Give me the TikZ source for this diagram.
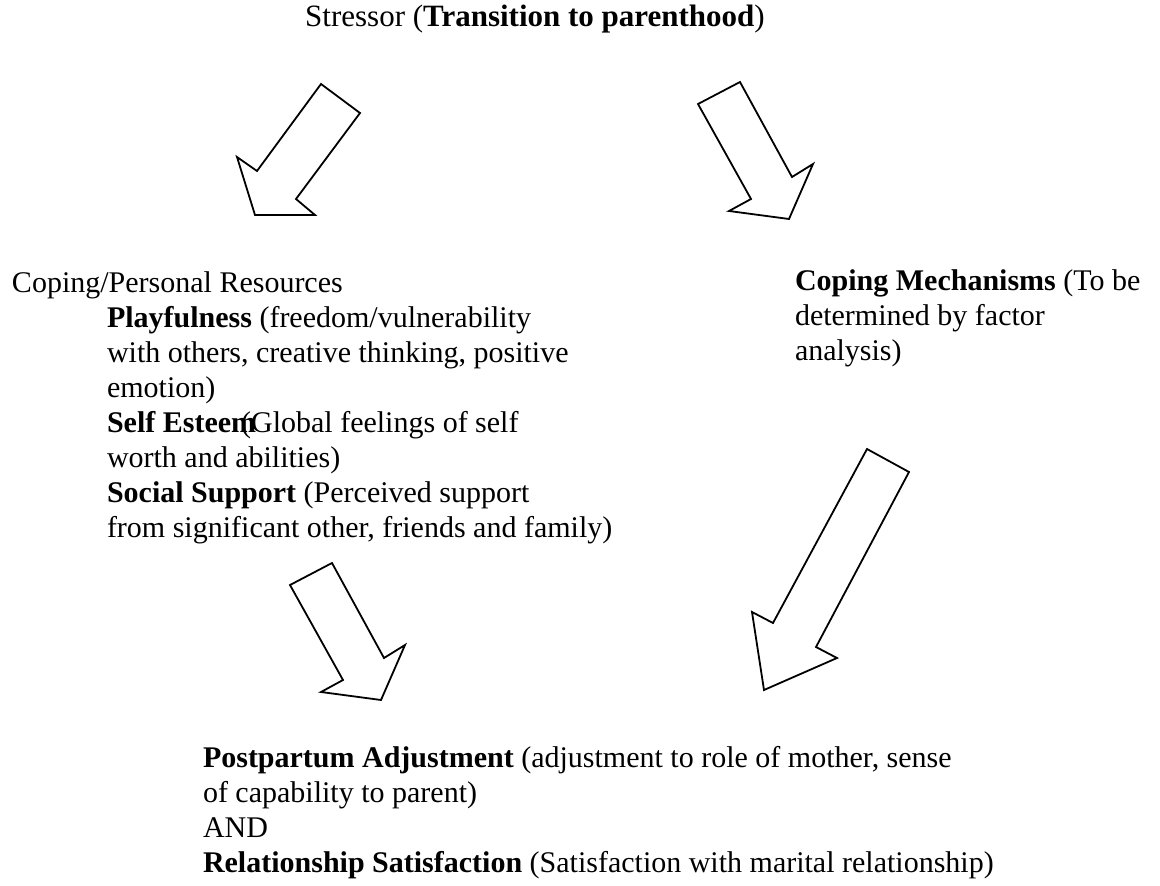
\documentclass[tikz,border=0pt]{standalone}
\usepackage{fontspec}
\setmainfont{Liberation Serif}
\begin{document}
\begin{tikzpicture}[x=1pt,y=-1pt,
  txt/.style={anchor=base west,inner sep=0pt,outer sep=0pt,font=\fontsize{30}{35}\selectfont},
  blockarrow/.style={draw=black,line width=1.8pt,line join=miter,fill=white}]
\useasboundingbox (0,0) rectangle (1160,886);
% title
\node[anchor=base,inner sep=0pt,font=\fontsize{31}{35}\selectfont] (title) at (535,26) {Stressor (\textbf{Transition to parenthood})};
% arrows
\draw[blockarrow] (321,84) -- (360,113) -- (296,199) -- (315,215) -- (255,215) -- (237,157) -- (257,171) -- cycle;
\draw[blockarrow] (740,82) -- (698,104) -- (751,199) -- (729,211) -- (789,219) -- (813,164) -- (792,177) -- cycle;
\draw[blockarrow] (867,449) -- (909,472) -- (816,647) -- (837,658) -- (764,690) -- (752,612) -- (773,623) -- cycle;
\draw[blockarrow] (332,563) -- (290,585) -- (343,680) -- (321,692) -- (381,700) -- (405,645) -- (384,658) -- cycle;
% left block
\node[txt] (res) at (12,292) {Coping/Personal Resources};
\node[txt] (play1) at (107,327) {\textbf{Playfulness} (freedom/vulnerability};
\node[txt] (play2) at (107,362) {with others, creative thinking, positive};
\node[txt] (play3) at (107,397) {emotion)};
\node[txt] (self1) at (107,432) {\textbf{Self Esteem}\hspace{-0.5em}(Global feelings of self};
\node[txt] (self2) at (107,467) {worth and abilities)};
\node[txt] (soc1) at (107,502) {\textbf{Social Support} (Perceived support};
\node[txt] (soc2) at (107,537) {from significant other, friends and family)};
% right block
\node[txt] (mech1) at (795,290) {\textbf{Coping Mechanisms} (To be};
\node[txt] (mech2) at (795,325) {determined by factor};
\node[txt] (mech3) at (795,360) {analysis)};
% bottom block
\node[txt] (out1) at (203,767) {\textbf{Postpartum Adjustment} (adjustment to role of mother, sense};
\node[txt] (out2) at (203,802) {of capability to parent)};
\node[txt] (out3) at (203,837) {AND};
\node[txt] (out4) at (203,872) {\textbf{Relationship Satisfaction} (Satisfaction with marital relationship)};
\end{tikzpicture}
\end{document}
